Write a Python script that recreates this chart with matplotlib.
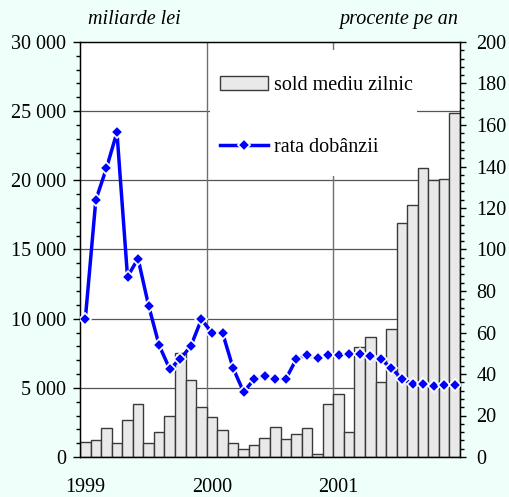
import numpy as np
import matplotlib

matplotlib.use("Agg")
import matplotlib.pyplot as plt
from matplotlib.patches import Rectangle
from matplotlib.ticker import MultipleLocator

# monthly data, Jan 1999 .. Dec 2001
sold_mediu = [1100, 1200, 2100, 1000, 2650, 3850, 1000, 1800, 3000, 7500,
              5550, 3650, 2900, 1950, 1000, 550, 900, 1350, 2150, 1300,
              1650, 2100, 250, 3800, 4550, 1800, 7950, 8700, 5450, 9250,
              16950, 18200, 20900, 20000, 20100, 24850]
rata_dobanzii = [66.3, 123.9, 139.1, 156.5, 86.9, 95.6, 72.9, 53.8, 42.4, 47.2,
                 53.5, 66.3, 59.9, 59.9, 42.9, 31.3, 37.5, 39.2, 37.6, 37.6,
                 47.2, 49.0, 47.7, 49.0, 49.3, 49.6, 49.5, 48.7, 47.1, 42.9,
                 37.6, 35.3, 35.3, 34.4, 34.5, 34.5]
year_labels = ["1999", "2000", "2001"]
left_ticks = [0, 5000, 10000, 15000, 20000, 25000, 30000]
left_ticklabels = ["0", "5 000", "10 000", "15 000", "20 000", "25 000", "30 000"]

BG = "#EFFFFA"
FONT = "Liberation Serif"
FS = 14.5

plt.rcParams["font.family"] = [FONT, "DejaVu Serif"]

fig = plt.figure(figsize=(5.09, 4.97), dpi=100, facecolor=BG)
ax = fig.add_axes([80 / 509, 1 - 457 / 497, 380 / 509, 415 / 497])
ax.set_facecolor("white")
x = np.arange(len(sold_mediu))

ax.bar(x, sold_mediu, width=1.0, color="#E9E9E9", edgecolor="#3a3a3a",
       linewidth=1.0, zorder=2, label="sold mediu zilnic")
ax.set_xlim(-0.5, len(x) - 0.5)
ax.set_ylim(0, 30000)
ax.set_yticks(left_ticks)
ax.set_yticklabels(left_ticklabels)
ax.yaxis.set_minor_locator(MultipleLocator(1000))
ax.set_xticks([0, 12, 24])
ax.set_xticklabels(year_labels)
ax.tick_params(axis="x", length=0, pad=15, labelsize=FS)
ax.tick_params(axis="y", which="major", direction="out", length=5, width=1,
               pad=5, labelsize=FS)
ax.tick_params(axis="y", which="minor", direction="out", length=3, width=1)

# grid behind the bars
for v in left_ticks[1:-1]:
    ax.axhline(v, color="#555555", lw=0.9, zorder=0.5)
for v in (11.5, 23.5):
    ax.axvline(v, color="#707070", lw=1.0, zorder=0.5)
# blank area behind the legend
ax.add_patch(Rectangle(((210 - 80) / 380, (457 - 176) / 415), 207 / 380,
                       126 / 415, transform=ax.transAxes, facecolor="white",
                       edgecolor="none", zorder=0.8))
for s in ax.spines.values():
    s.set_color("black")
    s.set_linewidth(1.0)

ax2 = ax.twinx()
ax2.plot(x, rata_dobanzii, color="#0000FF", lw=2.5, marker="D", ms=6,
         mfc="#0000FF", mec="white", mew=1.2, zorder=3, label="rata dobânzii")
ax2.set_ylim(0, 200)
ax2.yaxis.set_major_locator(MultipleLocator(20))
ax2.yaxis.set_minor_locator(MultipleLocator(4))
ax2.tick_params(axis="y", which="major", direction="out", length=4.3, width=1,
                pad=7.5, labelsize=FS)
ax2.tick_params(axis="y", which="minor", direction="out", length=3, width=1)

h1, l1 = ax.get_legend_handles_labels()
h2, l2 = ax2.get_legend_handles_labels()
ax2.legend(h1 + h2, l1 + l2, loc="upper left", frameon=False,
           bbox_to_anchor=(220 / 509, 1 - 76 / 497),
           bbox_transform=fig.transFigure, borderpad=0, borderaxespad=0,
           fontsize=FS, handlelength=2.4, handletextpad=0.3,
           labelspacing=2.15, numpoints=1)

fig.text(88 / 509, 1 - 24 / 497, "miliarde lei", fontsize=FS, style="italic",
         ha="left", va="baseline")
fig.text(458 / 509, 1 - 24 / 497, "procente pe an", fontsize=FS,
         style="italic", ha="right", va="baseline")

fig.savefig("out.png", dpi=100, facecolor=BG)
